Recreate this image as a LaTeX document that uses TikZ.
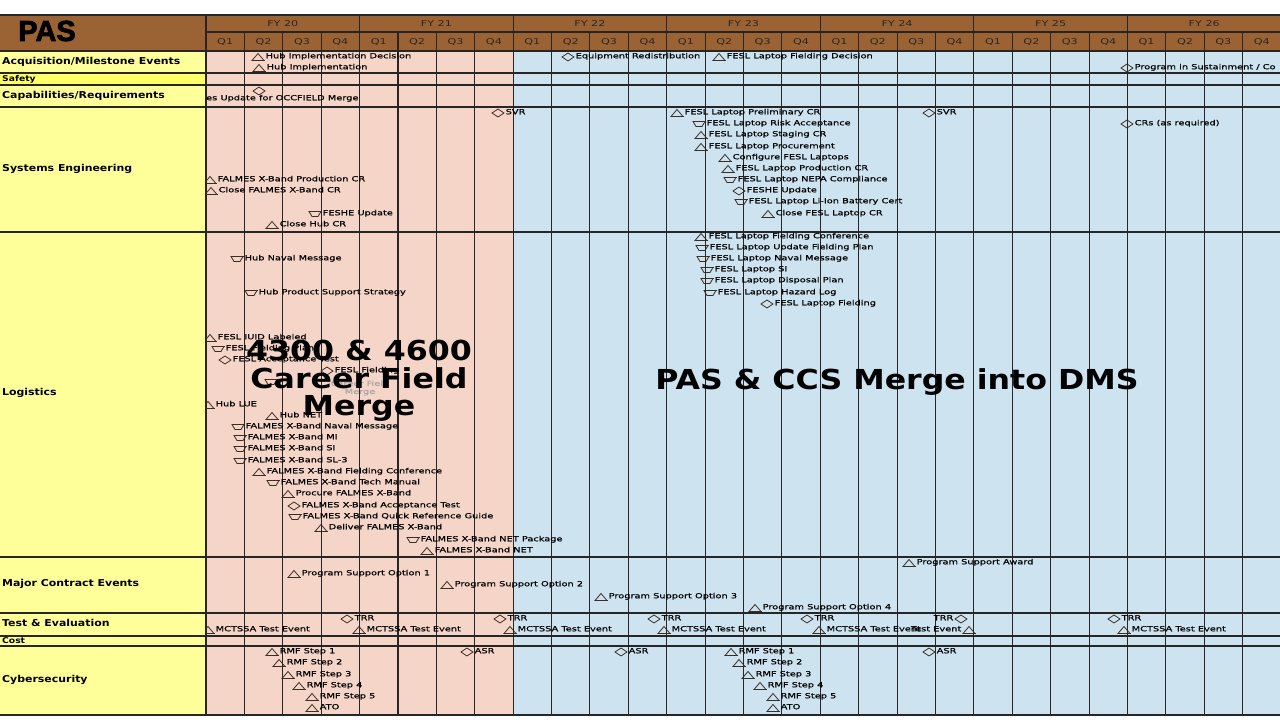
\documentclass[tikz,border=0pt]{standalone}
\usepackage{fontspec}
\setmainfont{DejaVu Sans}
\newfontfamily\widefont[FakeStretch=1.4]{DejaVu Sans}
\newfontfamily\evfont[FakeStretch=1.4, FakeBold=0.6]{DejaVu Sans}
\newfontfamily\labfont[FakeStretch=1.15]{DejaVu Sans}
\newfontfamily\titlefont[FakeBold=2.5]{Liberation Sans}

\definecolor{hdrbrown}{RGB}{155,99,52}
\definecolor{pinkbg}{RGB}{245,213,199}
\definecolor{bluebg}{RGB}{205,227,240}
\definecolor{labyellow}{RGB}{255,255,153}
\definecolor{safeyellow}{RGB}{255,255,102}
\definecolor{symcol}{RGB}{60,45,35}

\tikzstyle{evtext} = [anchor=west, inner sep=0pt, text height=4.5pt, text depth=2pt, font=\evfont\fontsize{7}{8}\selectfont]
\tikzstyle{rowlabel} = [anchor=west, inner sep=0pt, font=\labfont\bfseries\fontsize{9.5}{10}\selectfont]
\tikzstyle{hdr} = [inner sep=0pt, text=black!85, font=\widefont\fontsize{8}{9}\selectfont]
\tikzstyle{symb} = [draw=symcol, line width=0.8pt, line join=miter]
\tikzstyle{gridline} = [black!85, line width=1.1pt]
\tikzstyle{bigtext} = [align=center, inner sep=0pt, font=\labfont\bfseries\fontsize{27.5}{27.5}\selectfont]

% milestone symbols, centred on (x,y)
\newcommand{\symtri}[2]{%
  \draw[symb] (#1-6,#2+3.5) -- (#1,#2-3.5) -- (#1+6,#2+3.5) -- cycle;
  \draw[symb, line width=1.4pt] (#1-6.5,#2+3.5) -- (#1+6.5,#2+3.5);}
\newcommand{\symdown}[2]{%
  \draw[symb] (#1-6,#2-2.5) -- (#1+6,#2-2.5) -- (#1+3,#2+2.5) -- (#1-3,#2+2.5) -- cycle;
  \draw[symb, line width=1.4pt] (#1-6.5,#2-2.5) -- (#1+6.5,#2-2.5);}
\newcommand{\symdia}[2]{%
  \draw[symb] (#1-6,#2) -- (#1,#2-4) -- (#1+6,#2) -- (#1,#2+4) -- cycle;}
% \ev{symbol}{name}{x}{y}{label}, label right / left of the symbol
\newcommand{\ev}[5]{\csname sym#1\endcsname{#3}{#4}
  \node[evtext] (#2) at (#3+7.5,#4) {#5};}
\newcommand{\evl}[5]{\csname sym#1\endcsname{#3}{#4}
  \node[evtext, anchor=east] (#2) at (#3-7.5,#4) {#5};}

\begin{document}
\begin{tikzpicture}[x=1pt, y=-1pt]
\useasboundingbox (0,0) rectangle (1280,720);
\fill[white] (0,0) rectangle (1280,720);

% backgrounds
\fill[hdrbrown] (0,15) rectangle (1280,51);
\fill[labyellow] (0,51) rectangle (206,715);
\fill[safeyellow] (0,73) rectangle (206,85);
\fill[pinkbg] (206,51) rectangle (513.6,715);
\fill[bluebg] (513.6,51) rectangle (1280,715);

% header
\node[font=\titlefont\bfseries\fontsize{29}{30}\selectfont, inner sep=0pt] (title) at (47,31) {PAS};
\foreach \fy [count=\k from 0] in {20,...,26}
  \node[hdr] (fy\fy) at (206+153.57*\k+76.8,24) {FY \fy};
\foreach \k in {0,...,6}
  \foreach \q in {1,...,4}
    \node[hdr] (q\k\q) at (206+153.57*\k+38.39*\q-19.2,42) {Q\q};

% grid
\foreach \i in {0,...,28}
  \draw[gridline] (206+38.393*\i,32) -- (206+38.393*\i,715);
\foreach \k in {0,...,7}
  \draw[gridline] (206+153.57*\k,15) -- (206+153.57*\k,32);
\draw[gridline] (206,32) -- (1280,32);
\foreach \yy in {15,51,73,85,107,232,557,613,636,646,715}
  \draw[gridline] (0,\yy) -- (1280,\yy);

% row labels
\node[rowlabel] (racq) at (2,62) {Acquisition/Milestone Events};
\node[rowlabel, font=\labfont\bfseries\fontsize{8}{9}\selectfont] (rsaf) at (2,79) {Safety};
\node[rowlabel] (rcap) at (2,96) {Capabilities/Requirements};
\node[rowlabel] (rse) at (2,169) {Systems Engineering};
\node[rowlabel] (rlog) at (2,393) {Logistics};
\node[rowlabel] (rmce) at (2,584) {Major Contract Events};
\node[rowlabel] (rte) at (2,623) {Test \& Evaluation};
\node[rowlabel, font=\labfont\bfseries\fontsize{8}{9}\selectfont] (rcost) at (2,641) {Cost};
\node[rowlabel] (rcyb) at (2,680) {Cybersecurity};

\begin{scope}
\clip (206,51) rectangle (1280,715);
% acquisition
\ev{tri}{hubdec}{258}{57}{Hub Implementation Decision}
\ev{tri}{hubimp}{259}{68}{Hub Implementation}
\ev{dia}{eqred}{568}{57}{Equipment Redistribution}
\ev{tri}{fldec}{719}{57}{FESL Laptop Fielding Decision}
\ev{dia}{sust}{1127}{68}{Program in Sustainment / Co}
% capabilities
\symdia{259}{91}
\node[evtext] (occ) at (206,99) {es Update for OCCFIELD Merge};
% systems engineering
\ev{dia}{svra}{498}{113}{SVR}
\ev{tri}{fxprod}{210}{180}{FALMES X-Band Production CR}
\ev{tri}{fxclose}{211}{191}{Close FALMES X-Band CR}
\ev{down}{fesha}{315}{214}{FESHE Update}
\ev{tri}{hubcr}{272}{225}{Close Hub CR}
\ev{tri}{flprel}{677}{113}{FESL Laptop Preliminary CR}
\ev{down}{flrisk}{699}{124}{FESL Laptop Risk Acceptance}
\ev{tri}{flstag}{701}{135}{FESL Laptop Staging CR}
\ev{tri}{flproc}{701}{147}{FESL Laptop Procurement}
\ev{tri}{flconf}{725}{158}{Configure FESL Laptops}
\ev{tri}{flprod}{728}{169}{FESL Laptop Production CR}
\ev{down}{flnepa}{730}{180}{FESL Laptop NEPA Compliance}
\ev{dia}{feshb}{739}{191}{FESHE Update}
\ev{down}{flbat}{741}{202}{FESL Laptop Li-Ion Battery Cert}
\ev{tri}{flclose}{768}{214}{Close FESL Laptop CR}
\ev{dia}{svrb}{929}{113}{SVR}
\ev{dia}{crs}{1127}{124}{CRs (as required)}
% logistics
\ev{down}{hubnav}{237}{259}{Hub Naval Message}
\ev{down}{hubpss}{251}{293}{Hub Product Support Strategy}
\ev{tri}{fiuid}{210}{338}{FESL IUID Labeled}
\ev{down}{ffplan}{218}{349}{FESL Fielding Plan}
\ev{dia}{facc}{225}{360}{FESL Acceptance Test}
\ev{dia}{ffield}{327}{371}{FESL Fielding}
\symdown{271}{382}
\node[evtext, anchor=center, align=center, text=black!35, text height=, text depth=] (cfgrey) at (360,388) {Career Field\\Merge};
\ev{tri}{hublue}{208}{405}{Hub LUE}
\ev{tri}{hubnet}{272}{416}{Hub NET}
\ev{down}{fxnav}{238}{427}{FALMES X-Band Naval Message}
\ev{down}{fxmi}{240}{438}{FALMES X-Band MI}
\ev{down}{fxsi}{240}{449}{FALMES X-Band SI}
\ev{down}{fxsl}{240}{461}{FALMES X-Band SL-3}
\ev{tri}{fxfc}{259}{472}{FALMES X-Band Fielding Conference}
\ev{down}{fxtm}{273}{483}{FALMES X-Band Tech Manual}
\ev{tri}{fxproc}{288}{494}{Procure FALMES X-Band}
\ev{dia}{fxacc}{294}{506}{FALMES X-Band Acceptance Test}
\ev{down}{fxqrg}{295}{517}{FALMES X-Band Quick Reference Guide}
\ev{tri}{fxdel}{321}{528}{Deliver FALMES X-Band}
\ev{down}{fxnetp}{413}{540}{FALMES X-Band NET Package}
\ev{tri}{fxnet}{427}{551}{FALMES X-Band NET}
\ev{tri}{flfc}{701}{237}{FESL Laptop Fielding Conference}
\ev{down}{flufp}{702}{248}{FESL Laptop Update Fielding Plan}
\ev{down}{flnav}{703}{259}{FESL Laptop Naval Message}
\ev{down}{flsi}{707}{270}{FESL Laptop SI}
\ev{down}{fldisp}{707}{281}{FESL Laptop Disposal Plan}
\ev{down}{flhaz}{710}{293}{FESL Laptop Hazard Log}
\ev{dia}{flfield}{767}{304}{FESL Laptop Fielding}
% major contract events
\ev{tri}{pso1}{294}{574}{Program Support Option 1}
\ev{tri}{pso2}{447}{585}{Program Support Option 2}
\ev{tri}{pso3}{601}{597}{Program Support Option 3}
\ev{tri}{pso4}{755}{608}{Program Support Option 4}
\ev{tri}{psaw}{909}{563}{Program Support Award}
% test & evaluation
\ev{dia}{trr1}{347}{619}{TRR}
\ev{dia}{trr2}{500}{619}{TRR}
\ev{dia}{trr3}{654}{619}{TRR}
\ev{dia}{trr4}{807}{619}{TRR}
\evl{dia}{trr5}{961}{619}{TRR}
\ev{dia}{trr6}{1114}{619}{TRR}
\ev{tri}{mte1}{208}{630}{MCTSSA Test Event}
\ev{tri}{mte2}{359}{630}{MCTSSA Test Event}
\ev{tri}{mte3}{510}{630}{MCTSSA Test Event}
\ev{tri}{mte4}{664}{630}{MCTSSA Test Event}
\ev{tri}{mte5}{819}{630}{MCTSSA Test Event}
\evl{tri}{mte6}{969}{630}{Test Event}
\ev{tri}{mte7}{1124}{630}{MCTSSA Test Event}
% cybersecurity
\ev{tri}{rmfa1}{272}{652}{RMF Step 1}
\ev{tri}{rmfa2}{279}{663}{RMF Step 2}
\ev{tri}{rmfa3}{288}{675}{RMF Step 3}
\ev{tri}{rmfa4}{299}{686}{RMF Step 4}
\ev{tri}{rmfa5}{312}{697}{RMF Step 5}
\ev{tri}{atoa}{312}{708}{ATO}
\ev{dia}{asr1}{467}{652}{ASR}
\ev{dia}{asr2}{621}{652}{ASR}
\ev{dia}{asr3}{929}{652}{ASR}
\ev{tri}{rmfb1}{731}{652}{RMF Step 1}
\ev{tri}{rmfb2}{739}{663}{RMF Step 2}
\ev{tri}{rmfb3}{748}{675}{RMF Step 3}
\ev{tri}{rmfb4}{760}{686}{RMF Step 4}
\ev{tri}{rmfb5}{773}{697}{RMF Step 5}
\ev{tri}{atob}{773}{708}{ATO}
\end{scope}

% overlay texts
\node[bigtext] (ovlcf) at (359,381) {4300 \& 4600\\Career Field\\Merge};
\node[bigtext] (ovldms) at (897,382) {PAS \& CCS Merge into DMS};
\end{tikzpicture}
\end{document}
